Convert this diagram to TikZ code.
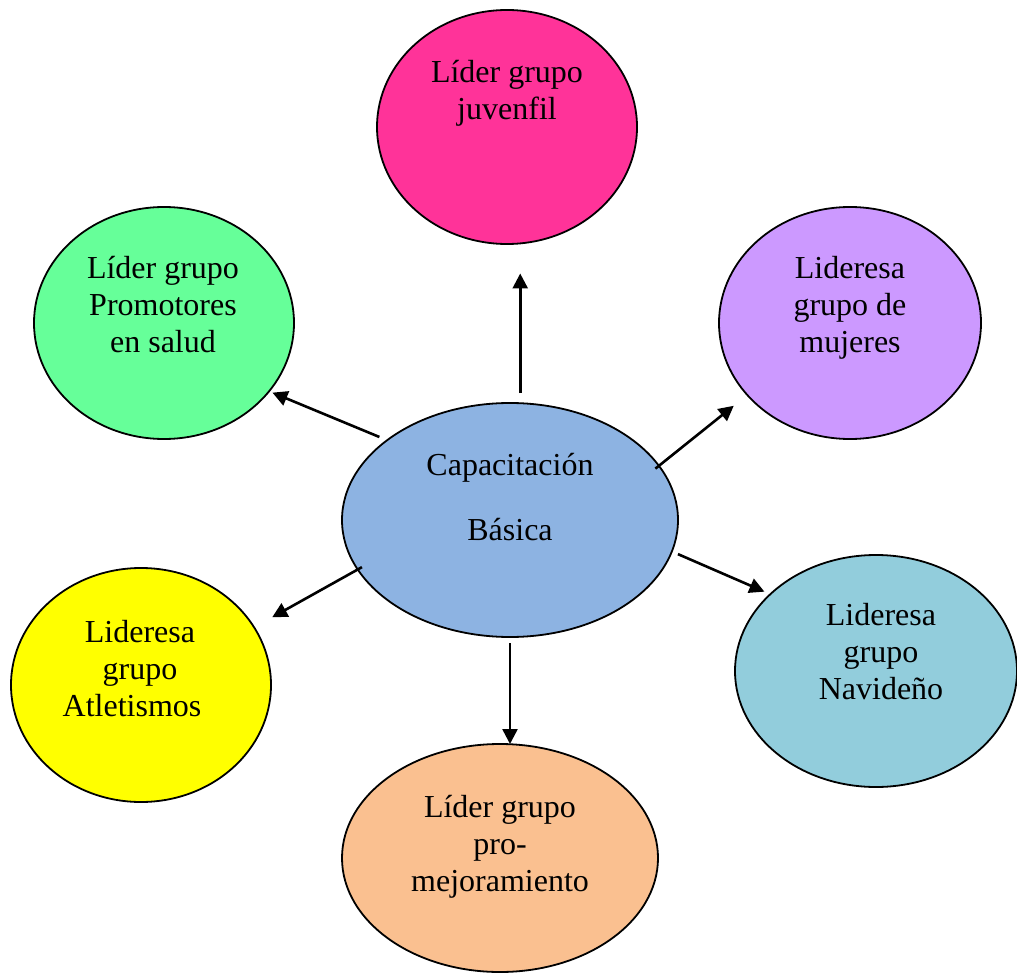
\documentclass[tikz,border=0pt]{standalone}
\usepackage{fontspec}
\setmainfont{Liberation Serif}
\usetikzlibrary{arrows.meta, shapes.geometric}

\definecolor{rosa}{HTML}{FF3399}
\definecolor{verde}{HTML}{66FF99}
\definecolor{lila}{HTML}{CC99FF}
\definecolor{azul}{HTML}{8DB3E2}
\definecolor{amarillo}{HTML}{FFFF00}
\definecolor{celeste}{HTML}{92CDDC}
\definecolor{durazno}{HTML}{FAC090}

\begin{document}
\begin{tikzpicture}[x=0.5pt, y=-0.5pt, >={Triangle[length=7.5pt, width=7.5pt]},
    grupo/.style={draw, ellipse, line width=0.9pt, inner sep=0pt, outer sep=0pt},
    texto/.style={align=center, inner sep=0pt, anchor=north, font=\fontsize{16}{18.5}\selectfont},
    flecha/.style={->, line width=1.3pt}]

        \useasboundingbox (0,0) rectangle (1017,973);

        % Nodes
        \node (juv) [grupo, fill=rosa, minimum width=130pt, minimum height=117pt] at (507,127) {};
        \node (pro) [grupo, fill=verde, minimum width=130pt, minimum height=116pt] at (164,323) {};
        \node (muj) [grupo, fill=lila, minimum width=131pt, minimum height=116pt] at (850,323) {};
        \node (cap) [grupo, fill=azul, minimum width=168pt, minimum height=117pt] at (510,520) {};
        \node (atl) [grupo, fill=amarillo, minimum width=130pt, minimum height=117pt] at (141,685) {};
        \node (nav) [grupo, fill=celeste, minimum width=141pt, minimum height=116pt] at (876,671) {};
        \node (mej) [grupo, fill=durazno, minimum width=158pt, minimum height=114pt] at (500,858) {};

        % Texts
        \node (juvtxt) [texto] at (507,56) {\strut Líder grupo\\ juvenfil};
        \node (protxt) [texto] at (163,252) {\strut Líder grupo\\ Promotores\\ en salud};
        \node (mujtxt) [texto] at (850,252) {\strut Lideresa\\ grupo de\\ mujeres};
        \node (captxt) [texto] at (510,449) {\strut Capacitación\\[14pt] Básica};
        \node (atltxt) [texto] at (140,616) {\strut Lideresa\\ grupo\\ Atletismos\kern8pt};
        \node (navtxt) [texto] at (881,599) {\strut Lideresa\\ grupo\\ Navideño};
        \node (mejtxt) [texto] at (500,791) {\strut Líder grupo\\ pro-\\ mejoramiento};

        % Arrows
        \draw[flecha, shorten <=5.1pt, shorten >=14.75pt] (cap.85.6) -- (cap.85.6 |- juv.south);
        \draw[flecha, shorten <=4.2pt, shorten >=1.8pt] (cap.147.7) -- (pro.327.4);
        \draw[flecha, shorten <=-2.25pt, shorten >=8.65pt] (cap.20.3) -- (muj.215.2);
        \draw[flecha, shorten <=-2.4pt, shorten >=10.35pt] (cap.198.7) -- (atl.27.4);
        \draw[flecha, shorten <=3.35pt, shorten >=3.2pt] (cap.349.1) -- (nav.144.9);
        \draw[flecha, shorten <=3pt] (cap.270.5) -- (cap.270.5 |- mej.north);

\end{tikzpicture}
\end{document}
